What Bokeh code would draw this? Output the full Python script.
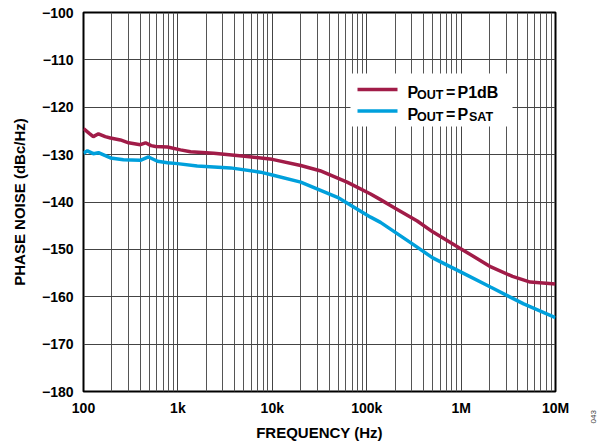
from bokeh.plotting import figure
from bokeh.models import FixedTicker, Range1d, Label, BoxAnnotation
from bokeh.embed import file_html
from bokeh.resources import INLINE
import math

# ---- data ----
freq_p1db = [100, 115, 127, 144, 170, 193, 246, 300, 400, 454, 520, 580, 775,
             1065, 1360, 2400, 5400, 10000, 20000, 32000, 62000, 110000, 140000,
             200000, 343000, 500000, 1000000, 2070000, 3500000, 5400000, 10000000]
noise_p1db = [-124.5, -125.5, -126.2, -125.6, -126.2, -126.5, -126.9, -127.5, -127.9,
              -127.5, -128.1, -128.3, -128.4, -129.0, -129.4, -129.7, -130.4, -131.0,
              -132.3, -133.4, -135.8, -138.3, -139.5, -141.3, -144.0, -146.3, -149.9,
              -153.7, -155.7, -156.9, -157.3]

freq_psat = [100, 110, 127, 144, 193, 265, 400, 488, 608, 775, 990, 1600, 3600,
             7500, 10000, 20000, 49000, 110000, 140000, 313000, 500000, 1000000,
             2070000, 4600000, 10000000]
noise_psat = [-129.7, -129.2, -129.8, -129.6, -130.7, -131.1, -131.2, -130.5, -131.4,
              -131.7, -131.9, -132.4, -132.8, -133.7, -134.3, -135.8, -139.0, -143.2,
              -144.3, -149.0, -151.8, -154.8, -158.0, -161.5, -164.4]

x_ticks = [100, 1000, 10000, 100000, 1000000, 10000000]
x_tick_labels = ["100", "1k", "10k", "100k", "1M", "10M"]
x_minor_mult = [2, 3, 4, 5, 6, 7, 8, 9]
y_ticks = [-180, -170, -160, -150, -140, -130, -120, -110, -100]
y_tick_labels = ["\u2212180", "\u2212170", "\u2212160", "\u2212150", "\u2212140",
                 "\u2212130", "\u2212120", "\u2212110", "\u2212100"]

RED = "#A11C48"
BLUE = "#00A0DC"
FONT = "Liberation Sans"

p = figure(width=597, height=448, x_axis_type="log",
           x_range=Range1d(100, 1e7), y_range=Range1d(-180, -100),
           output_backend="svg", toolbar_location=None,
           min_border_left=83, min_border_right=42, min_border_top=12,
           min_border_bottom=57)
p.background_fill_color = "white"
p.border_fill_color = "white"
p.outline_line_color = "black"
p.outline_line_width = 2

x_minor = [m * t for t in x_ticks[:-1] for m in x_minor_mult]
p.xaxis.ticker = FixedTicker(ticks=x_ticks, minor_ticks=x_minor)
p.yaxis.ticker = FixedTicker(ticks=y_ticks)
p.xaxis.major_label_overrides = {t: l for t, l in zip(x_ticks, x_tick_labels)}
p.yaxis.major_label_overrides = {t: l for t, l in zip(y_ticks, y_tick_labels)}

for ax in (p.xaxis, p.yaxis):
    ax.axis_line_color = None
    ax.major_tick_line_color = None
    ax.minor_tick_line_color = None
    ax.major_tick_in = 0
    ax.major_tick_out = 0
    ax.minor_tick_in = 0
    ax.minor_tick_out = 0
    ax.major_label_text_font = FONT
    ax.major_label_text_font_style = "bold"
    ax.major_label_text_font_size = "14px"
    ax.major_label_text_color = "black"
    ax.axis_label_text_font = FONT
    ax.axis_label_text_font_style = "bold"
    ax.axis_label_text_font_size = "15px"
    ax.axis_label_text_color = "black"

p.xaxis.axis_label = "FREQUENCY (Hz)"
p.yaxis.axis_label = "PHASE NOISE (dBc/Hz)"
p.xaxis.major_label_standoff = 8
p.yaxis.major_label_standoff = 10
p.xaxis.axis_label_standoff = 5
p.yaxis.axis_label_standoff = 11

p.xgrid.grid_line_color = "#444444"
p.xgrid.grid_line_width = 1
p.xgrid.minor_grid_line_color = "#555555"
p.xgrid.minor_grid_line_width = 1
p.ygrid.grid_line_color = "#444444"
p.ygrid.grid_line_width = 1

p.line(freq_p1db, noise_p1db, line_color=RED, line_width=3.5)
p.line(freq_psat, noise_psat, line_color=BLUE, line_width=3.5)

# ---- legend (screen units relative to the plot frame) ----
def box(l, r, b, t, color):
    p.add_layout(BoxAnnotation(left=l, right=r, bottom=b, top=t,
                               left_units="screen", right_units="screen",
                               bottom_units="screen", top_units="screen",
                               fill_color=color, fill_alpha=1, line_color=None))

box(267, 429, 265, 318, "white")
box(274, 314, 300.3, 303.7, RED)
box(274, 314, 278.8, 282.2, BLUE)

def lab(x, y, text, size):
    p.add_layout(Label(x=x, y=y, x_units="screen", y_units="screen", text=text,
                       text_font=FONT, text_font_style="bold",
                       text_font_size=size, text_color="black",
                       text_baseline="alphabetic", text_align="left"))

L1, L2, SUB = 299.0, 277.5, 2.7
lab(323.9, L1, "P", "16px")
lab(333.5, L1 - SUB, "OUT", "12.5px")
lab(362.5, L1, "=", "16px")
lab(374.0, L1, "P1dB", "16px")
lab(323.9, L2, "P", "16px")
lab(333.5, L2 - SUB, "OUT", "12.5px")
lab(362.5, L2, "=", "16px")
lab(374.0, L2, "P", "16px")
lab(385.5, L2 - SUB, "SAT", "12.5px")

# figure id, placed in the right side panel so it is not clipped to the frame
p.add_layout(Label(x=40, y=-32, x_units="screen", y_units="screen", text="043",
                   angle=math.pi / 2, text_font=FONT, text_font_size="8px",
                   text_color="#444444", text_baseline="bottom", text_align="left"),
             "right")

open("out.html", "w").write(file_html(p, INLINE))
